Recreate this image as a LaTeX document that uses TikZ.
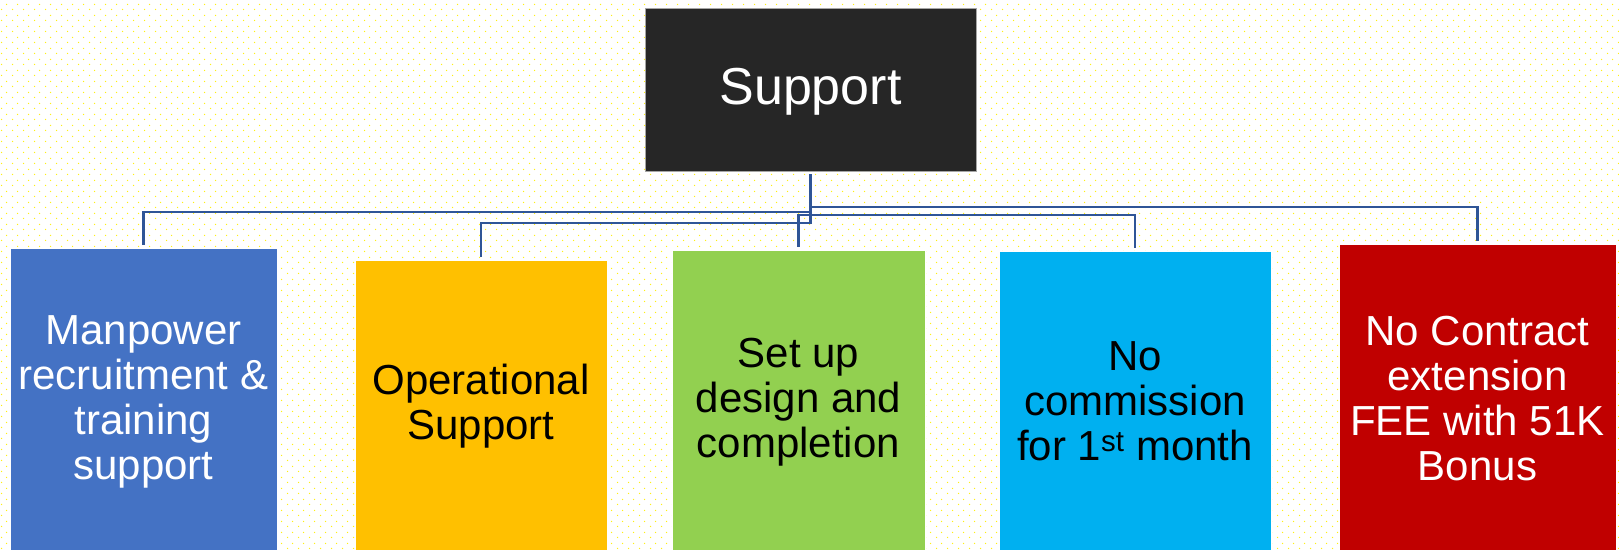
\documentclass[tikz,border=0pt]{standalone}
\usepackage{fontspec}
\setmainfont{Liberation Sans}
\usetikzlibrary{patterns}

\definecolor{linkblue}{RGB}{47,85,151}
\definecolor{topfill}{RGB}{38,38,38}
\definecolor{cblue}{RGB}{68,114,196}
\definecolor{corange}{RGB}{255,192,0}
\definecolor{cgreen}{RGB}{146,208,80}
\definecolor{ccyan}{RGB}{0,176,240}
\definecolor{cred}{RGB}{192,0,0}
\definecolor{dotyellow}{RGB}{255,240,20}

% staggered dot lattice for the page background
\pgfdeclarepatternformonly{ydots}{\pgfpointorigin}{\pgfqpoint{11pt}{11pt}}{\pgfqpoint{11pt}{11pt}}{%
  \pgfpathcircle{\pgfqpoint{2.75pt}{2.75pt}}{0.8pt}%
  \pgfpathcircle{\pgfqpoint{8.25pt}{8.25pt}}{0.8pt}%
  \pgfusepath{fill}}

\tikzset{
  card/.style={draw=white, line width=0.8pt, inner sep=0pt, align=center,
    font=\fontsize{42}{45}\selectfont},
  label/.style={inner sep=0pt, align=center, font=\fontsize{42}{45}\selectfont},
  link/.style={draw=linkblue, line width=2.4pt, shorten <=3pt, shorten >=3pt}
}

\begin{document}
\begin{tikzpicture}[x=1pt,y=-1pt]
\useasboundingbox (0,0) rectangle (1619,550);
\fill[white] (0,0) rectangle (1619,550);
\fill[pattern=ydots, pattern color=dotyellow] (0,0) rectangle (1619,550);

% root
\node[card, fill=topfill, draw=gray!70, text=white, minimum width=331pt, minimum height=163pt,
  font=\fontsize{52}{58}\selectfont] (sup) at (810.5,89.5) {};
\node[label, text=white, font=\fontsize{52}{58}\selectfont] (suptext) at (810.5,91.5) {Support};

% children
\node[card, fill=cblue, minimum width=267pt, minimum height=302pt] (man) at (143.5,399) {};
\node[label, text=white] (mantext) at (143.5,402) {Manpower\\recruitment \&\\training\\support};

\node[card, fill=corange, minimum width=252pt, minimum height=290pt] (ops) at (481,405) {};
\node[label, text=black] (opstext) at (481,406) {Operational\\Support};

\node[card, fill=cgreen, minimum width=253pt, minimum height=300pt] (set) at (798.5,400) {};
\node[label, text=black] (settext) at (798.5,402) {Set up\\design and\\completion};

\node[card, fill=ccyan, minimum width=272pt, minimum height=299pt] (nocom) at (1135,400.5) {};
\node[label, text=black] (nocomtext) at (1135,401) {No\\commission\\for 1\textsuperscript{st} month};

\node[card, fill=cred, minimum width=277pt, minimum height=306pt] (nofee) at (1477.5,397) {};
\node[label, text=white] (nofeetext) at (1477.5,399) {No Contract\\extension\\FEE with 51K\\Bonus};

% elbow points of the connectors
\coordinate (k1) at (143.5,212);
\coordinate (k2) at (481,223);
\coordinate (k3) at (798.5,215);
\coordinate (k4) at (1135,215);
\coordinate (k5) at (1477.5,207);

\draw[link] (sup.south) |- (k1) -- (man.north);
\draw[link] (sup.south) |- (k2) -- (ops.north);
\draw[link] (sup.south) |- (k3) -- (set.north);
\draw[link] (sup.south) |- (k4) -- (nocom.north);
\draw[link] (sup.south) |- (k5) -- (nofee.north);
\end{tikzpicture}
\end{document}
